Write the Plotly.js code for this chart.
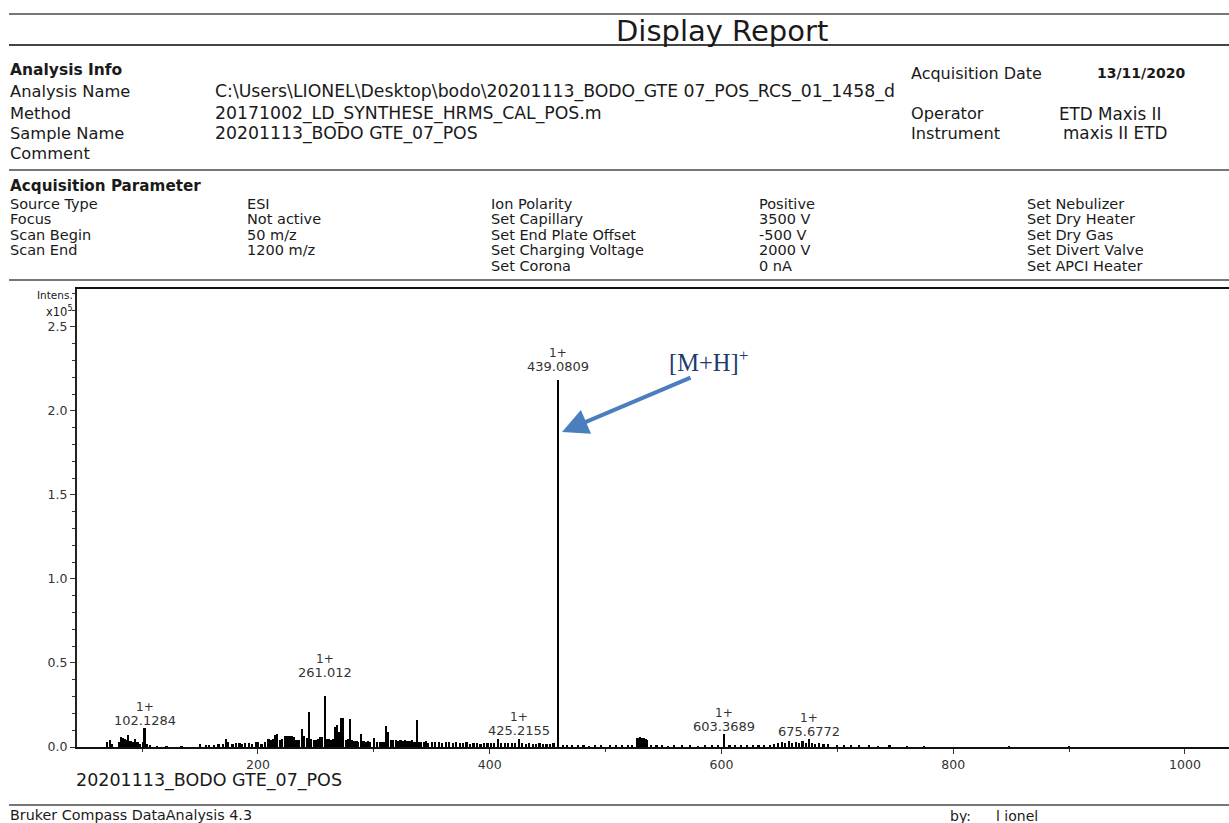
<!DOCTYPE html>
<html>
<head>
<meta charset="utf-8">
<script src="https://cdn.plot.ly/plotly-3.0.1.min.js"></script>
<style>
  html, body { margin: 0; padding: 0; background: #fff; }
  #chart { width: 1229px; height: 823px; }
</style>
</head>
<body>
<div id="chart"></div>
<script>
// ---------------- DATA ----------------
// m/z positions of the spectrum sticks (as drawn on the axis)
const mz = [
  70, 72, 74, 80, 82, 83, 85, 87, 88, 90, 92, 94, 96, 98, 101, 102.1, 104, 107, 113, 121, 134,
  150, 155, 158, 162, 166, 170, 172.5, 174, 178, 181, 184, 186, 189, 192, 195, 198, 200, 203, 206,
  209, 211, 213, 215, 216.5, 219, 221, 223, 225, 227, 229, 231,
  233, 235, 237.8, 240, 242, 244, 246, 248, 250, 252, 254, 255.5, 257.6, 259.5, 261, 263, 265,
  266.4, 268.4, 270, 271.4, 273.6, 276, 277.5, 279.4, 281, 283, 285, 286.5, 288.6, 291, 293, 295,
  297, 300, 302.6, 305, 307, 308.5, 310.5, 312.5, 314.5, 316.5, 319, 321, 323, 325, 327, 329,
  331, 333, 335, 337, 339, 341, 343, 345, 347, 350, 353, 356, 359, 362, 365, 368, 371, 374,
  377, 380, 383, 386, 389, 392, 395, 398, 401, 404, 407.4, 410, 413, 416, 419, 422, 425.5,
  428, 431, 434, 437, 440, 443, 446, 449, 452, 455, 459.2, 463, 467, 471, 476, 481, 486, 491,
  496, 504, 509, 514, 519, 523, 527, 528.5, 530, 531.5, 533, 534.5, 536, 539, 544, 549, 554,
  559, 566, 573, 580, 586, 592, 597, 602.2, 607, 612, 617, 622, 627, 632, 637, 642, 645, 649,
  652, 655, 658, 661, 664, 667, 670, 673, 675.2, 678, 681, 684, 688, 692, 700, 706, 712, 719,
  727, 735, 745, 760, 775, 848, 900
];
// intensities, x10^5
const intensity = [
  0.030, 0.040, 0.015, 0.030, 0.060, 0.055, 0.045, 0.040, 0.070, 0.035, 0.030, 0.050, 0.030, 0.020, 0.030, 0.115, 0.020, 0.012, 0.008, 0.008, 0.006,
  0.020, 0.010, 0.012, 0.010, 0.015, 0.020, 0.045, 0.030, 0.020, 0.022, 0.025, 0.018, 0.022, 0.025, 0.020, 0.030, 0.028, 0.020, 0.030,
  0.045, 0.040, 0.050, 0.070, 0.078, 0.040, 0.050, 0.067, 0.068, 0.066, 0.067, 0.060,
  0.044, 0.040, 0.107, 0.063, 0.055, 0.206, 0.045, 0.044, 0.040, 0.048, 0.060, 0.058, 0.305, 0.045, 0.048, 0.040, 0.050,
  0.120, 0.133, 0.090, 0.173, 0.173, 0.044, 0.050, 0.169, 0.040, 0.034, 0.036, 0.030, 0.077, 0.034, 0.030, 0.034,
  0.030, 0.054, 0.030, 0.030, 0.032, 0.028, 0.127, 0.087, 0.040, 0.040, 0.042, 0.038, 0.040, 0.035, 0.040, 0.038,
  0.036, 0.040, 0.030, 0.163, 0.030, 0.032, 0.028, 0.035, 0.025, 0.030, 0.028, 0.032, 0.025, 0.030, 0.028, 0.025, 0.030, 0.022,
  0.025, 0.028, 0.020, 0.022, 0.025, 0.020, 0.022, 0.026, 0.024, 0.026, 0.046, 0.026, 0.022, 0.026, 0.024, 0.026, 0.046,
  0.022, 0.020, 0.024, 0.020, 0.018, 0.022, 0.020, 0.018, 0.020, 0.022, 2.185, 0.012, 0.010, 0.012, 0.010, 0.012, 0.008, 0.012,
  0.010, 0.012, 0.010, 0.012, 0.010, 0.012, 0.052, 0.055, 0.058, 0.056, 0.054, 0.050, 0.040, 0.012, 0.010, 0.012, 0.008,
  0.012, 0.010, 0.012, 0.008, 0.014, 0.010, 0.012, 0.075, 0.012, 0.010, 0.012, 0.010, 0.012, 0.010, 0.014, 0.012, 0.020, 0.022,
  0.030, 0.024, 0.036, 0.022, 0.030, 0.025, 0.034, 0.022, 0.046, 0.025, 0.020, 0.022, 0.018, 0.015, 0.012, 0.010, 0.012, 0.010,
  0.012, 0.008, 0.010, 0.006, 0.006, 0.006, 0.006
];
// labelled peaks
const labelPeakMz = [102.1, 257.6, 425.5, 459.2, 602.2, 675.2];
const labelPeakInt = [0.115, 0.305, 0.046, 2.185, 0.075, 0.046];
const labelCharge = ["1+", "1+", "1+", "1+", "1+", "1+"];
const labelMass = ["102.1284", "261.012", "425.2155", "439.0809", "603.3689", "675.6772"];
const xTickVals = [200, 400, 600, 800, 1000];
const xTickText = ["200", "400", "600", "800", "1000"];
const yTickVals = [0, 0.5, 1.0, 1.5, 2.0, 2.5];
const yTickText = ["0.0", "0.5", "1.0", "1.5", "2.0", "2.5"];

// header texts
const reportTitle = "Display Report";
const infoLabels = ["Analysis Name", "Method", "Sample Name", "Comment"];
const infoValues = ["C:\\Users\\LIONEL\\Desktop\\bodo\\20201113_BODO_GTE 07_POS_RCS_01_1458_d",
                    "20171002_LD_SYNTHESE_HRMS_CAL_POS.m", "20201113_BODO GTE_07_POS", ""];
const acqCol1 = ["Source Type", "Focus", "Scan Begin", "Scan End"];
const acqCol2 = ["ESI", "Not active", "50 m/z", "1200 m/z"];
const acqCol3 = ["Ion Polarity", "Set Capillary", "Set End Plate Offset", "Set Charging Voltage", "Set Corona"];
const acqCol4 = ["Positive", "3500 V", "-500 V", "2000 V", "0 nA"];
const acqCol5 = ["Set Nebulizer", "Set Dry Heater", "Set Dry Gas", "Set Divert Valve", "Set APCI Heater"];

// ---------------- LAYOUT HELPERS ----------------
const L = 77, T = 289, R = 1229, B = 747;
const PX = x => (x - L) / (R - L);
const PY = y => (B - y) / (B - T);
const FONT = "DejaVu Sans";
const annotations = [];
function txt(text, x, y, size, opts) {
  opts = opts || {};
  annotations.push(Object.assign({
    text: text, xref: "paper", yref: "paper", x: PX(x), y: PY(y),
    xanchor: "left", yanchor: "middle", showarrow: false, borderpad: 0,
    font: {family: FONT, size: size, color: "#1a1a1a"}
  }, opts));
}

// header
txt(reportTitle, 722, 31, 29, {xanchor: "center"});
txt("<b>Analysis Info</b>", 9, 70, 15.5);
const infoY = [92, 113, 133, 153];
infoLabels.forEach((t, i) => txt(t, 9, infoY[i], 16.3));
infoValues.forEach((t, i) => { if (t) txt(t, 214, infoY[i], 17.3); });
txt("Acquisition Date", 910, 73, 16);
txt("<b>13/11/2020</b>", 1096, 73, 14);
txt("Operator", 910, 114, 16.2);
txt("ETD Maxis II", 1058, 114, 16.8);
txt("Instrument", 910, 133, 16.2);
txt("maxis II ETD", 1062, 133, 16.8);

txt("<b>Acquisition Parameter</b>", 9, 186, 15.2);
const acqY = [204, 219.5, 235, 250.5, 266];
acqCol1.forEach((t, i) => txt(t, 9, acqY[i], 14.5));
acqCol2.forEach((t, i) => txt(t, 246, acqY[i], 14.5));
acqCol3.forEach((t, i) => txt(t, 490, acqY[i], 14.5));
acqCol4.forEach((t, i) => txt(t, 758, acqY[i], 14.5));
acqCol5.forEach((t, i) => txt(t, 1026, acqY[i], 14.5));

// axis captions
txt("Intens.", 74, 295, 10.5, {xanchor: "right"});
txt("x10<sup>5</sup>", 74, 311, 11.5, {xanchor: "right"});

// below plot
txt(infoValues[2], 75, 780, 17.5);
txt("Bruker Compass DataAnalysis 4.3", 9, 815, 14.3);
txt("by:", 949, 816, 14);
txt("l ionel", 995, 816, 14);

// peak labels: mass line and charge line
const labelShift = [-1, 15, 0, 5, -1, -1];
labelPeakMz.forEach((m, i) => {
  annotations.push({
    text: labelMass[i], x: m, y: labelPeakInt[i],
    xref: "x", yref: "y", xanchor: "center", yanchor: "bottom", yshift: labelShift[i],
    showarrow: false, borderpad: 0,
    font: {family: FONT, size: 13, color: "#333"}
  });
  annotations.push({
    text: labelCharge[i], x: m, y: labelPeakInt[i],
    xref: "x", yref: "y", xanchor: "center", yanchor: "bottom", yshift: labelShift[i] + 14,
    showarrow: false, borderpad: 0,
    font: {family: FONT, size: 12, color: "#333"}
  });
});

// [M+H]+ arrow and text
annotations.push({
  text: "", x: 462.4, y: (747 - 432) / 168, xref: "x", yref: "y",
  showarrow: true, axref: "pixel", ayref: "pixel", ax: 130, ay: -55,
  arrowhead: 2, arrowsize: 1.3, arrowwidth: 4, arrowcolor: "#4A7EBF"
});
txt("[M+H]<sup>+</sup>", 668, 361, 24, {font: {family: "Liberation Serif", size: 24.5, color: "#1F3A6E"}});

// separator lines
const lineYs = [14, 45, 170, 280, 805];
const shapes = lineYs.map((y, i) => ({
  type: "line", xref: "paper", yref: "paper", x0: PX(9), x1: PX(1229), y0: PY(y), y1: PY(y),
  line: {color: i === 1 ? "#444" : "#777", width: 2}
}));

const trace = {
  type: "bar", x: mz, y: intensity, width: 1.9,
  marker: {color: "#000", line: {width: 0}}, hoverinfo: "x+y"
};

const layout = {
  width: 1229, height: 823,
  margin: {l: L, r: 1229 - R, t: T, b: 823 - B, pad: 0},
  paper_bgcolor: "#fff", plot_bgcolor: "#fff", showlegend: false,
  font: {family: FONT, color: "#333"},
  bargap: 0,
  xaxis: {
    range: [43.8, 1038], showgrid: false, zeroline: false,
    showline: true, linecolor: "#111", linewidth: 2, mirror: true,
    tickmode: "array", tickvals: xTickVals, ticktext: xTickText,
    ticks: "outside", ticklen: 5, tickwidth: 1, tickcolor: "#333",
    tickfont: {family: FONT, size: 12.5, color: "#333"},
    minor: {tickmode: "array", tickvals: [100, 300, 500, 700, 900], ticks: "outside", ticklen: 3, tickcolor: "#333"}
  },
  yaxis: {
    range: [0, 2.726], showgrid: false, zeroline: false,
    showline: true, linecolor: "#222", linewidth: 2, mirror: false,
    tickmode: "array", tickvals: yTickVals, ticktext: yTickText,
    ticks: "outside", ticklen: 5, tickwidth: 1, tickcolor: "#333",
    tickfont: {family: FONT, size: 12.5, color: "#333"},
    minor: {tick0: 0, dtick: 0.1, ticks: "outside", ticklen: 3, tickcolor: "#333"}
  },
  annotations: annotations,
  shapes: shapes
};

Plotly.newPlot("chart", [trace], layout, {displayModeBar: false, staticPlot: true});
</script>
</body>
</html>
